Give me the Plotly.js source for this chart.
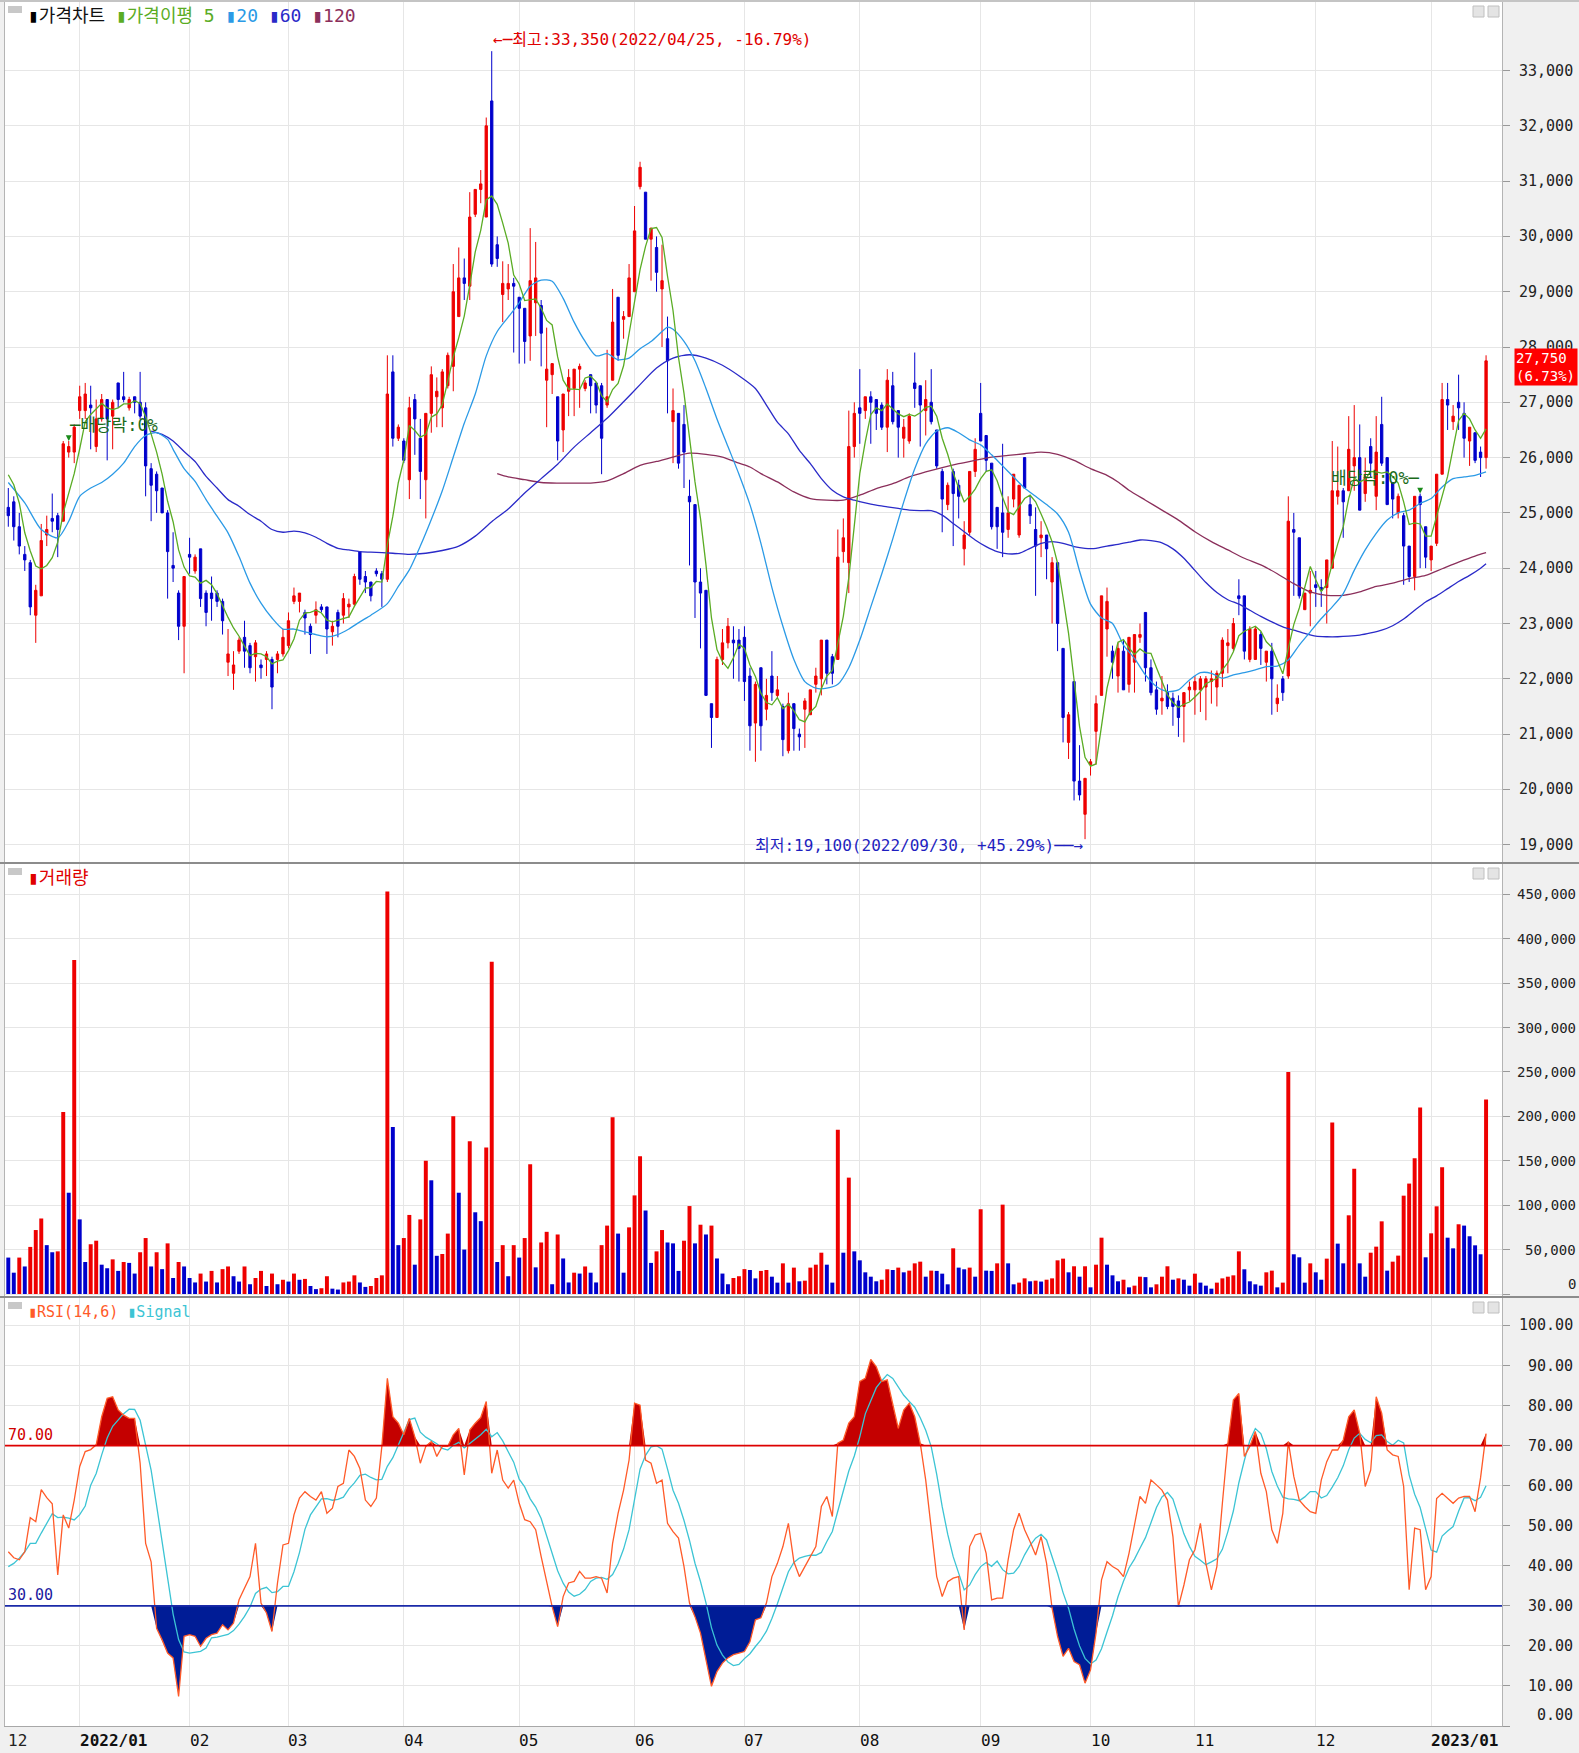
<!DOCTYPE html>
<html><head><meta charset="utf-8">
<script src="https://cdn.plot.ly/plotly-3.0.1.min.js"></script>
<style>html,body{margin:0;padding:0;background:#f0f0f0;}#chart{width:1579px;height:1753px;}</style>
</head><body><div id="chart"></div>
<script>
// ---------------- DATA (trading-day index 0 = 2021/12/14) ----------------
const openP = [
25100,25200,24750,24250,24100,23150,23500,24600,24900,24950,
24850,26100,26100,26850,26850,26950,26200,26700,27050,26750,
27350,27100,26900,27100,27000,26900,25800,25700,25450,25000,
24050,23550,22950,24250,23950,24350,23550,23550,23550,23400,
22300,22100,22500,22750,22600,22400,22250,22350,22350,22350,
22450,22600,23400,23400,23200,22950,23150,23300,23300,22850,
23200,23150,23300,23350,24300,23850,23750,23950,23900,23800,
27550,26350,26300,25600,27050,26350,25600,26800,27100,26900,
27300,27650,28550,29250,29100,30400,30850,30350,32450,29850,
28950,29050,29150,28900,28700,28200,28800,28750,27400,27500,
27100,26500,27200,27250,27600,27250,27500,27350,27300,26950,
27400,28900,28500,28550,29000,30900,30800,29950,29800,29050,
28150,26650,26800,26600,25300,25150,23750,23600,21550,21300,
22350,22650,22700,22700,22750,22050,21200,22200,21450,22050,
21700,21500,20700,21550,21000,21450,21350,21900,22000,22700,
22400,22350,24300,24100,26200,26900,26850,27100,27050,26950,
26550,27300,26850,26350,26300,27350,27300,26850,27000,26500,
25750,25150,25750,25500,24350,24650,25750,26800,26400,25900,
25100,25000,24700,25250,24600,26000,25150,24700,24550,24600,
23750,24100,22550,20850,21950,20150,19550,20450,21050,21700,
22900,22500,22050,22500,21900,22300,22750,23200,22200,21800,
21600,21750,21650,21600,21500,21800,21800,21800,21850,21950,
21850,22100,22600,22550,23500,23500,22350,22350,22800,22300,
22500,21550,22000,22050,24700,24550,23250,23550,23700,23650,
23650,24000,25300,25400,25400,25850,26000,25350,26200,25300,
26600,26000,25550,25000,24950,24400,23850,25300,24750,24150,
24450,25700,27050,26650,27000,26800,26300,26450,26100,26000];
const highP = [
25450,25300,25000,24400,24150,23700,24800,24950,25350,25000,
26300,26300,26600,27300,27350,27300,27050,27150,27050,27050,
27350,27550,27100,27100,27550,27000,25900,25750,25450,25050,
24650,23600,23850,24550,24250,24350,23600,23850,23600,23450,
22900,22500,22750,23050,22650,22700,22350,22500,22400,22500,
22900,23200,23650,23550,23250,23000,23400,23350,23300,23050,
23250,23550,23450,23900,24300,23950,23750,24000,23950,27850,
27850,26600,26350,27100,27150,26700,26800,27650,27450,27600,
27900,29500,29800,29600,30800,30850,31200,32150,33350,30000,
29550,29500,29250,28900,28700,30150,29900,28850,28350,27700,
27100,27150,27600,27600,27700,27400,27500,27350,27350,27950,
29050,28900,28650,29500,30550,31350,30800,30150,30000,29850,
28550,27250,26800,26950,25600,25150,24000,23600,21550,22400,
22900,23100,22950,22900,22950,22200,21950,22200,22000,22500,
22050,21550,21750,21550,21100,21650,21800,22200,22700,22700,
22450,24700,24900,26850,27000,27600,27100,27200,27050,27000,
27600,27550,26850,26700,26800,27900,27300,27400,27600,26500,
25800,25550,25800,25600,24850,25750,26350,27350,26400,25900,
25100,26250,25300,25700,25500,26000,25300,25100,24850,24600,
24200,24100,22550,21400,21950,20800,20200,20550,21700,23500,
23650,22600,22650,22700,22750,22800,23000,23200,22350,21950,
22050,21900,21750,21700,21750,21950,22050,22050,22050,22150,
22150,22750,22900,23100,23800,23500,22950,22950,22850,22500,
22650,21900,22050,25300,25000,24550,23550,23950,23950,23800,
24150,26300,26200,25450,26750,26950,26600,26000,26350,26750,
27100,26000,25550,25350,25000,24400,25300,25350,24750,24400,
25700,27350,27350,26950,27500,27000,26550,26450,26200,27850];
const lowP = [
24750,24500,24250,23950,23150,22650,23500,24400,24650,24200,
24850,26000,25900,26700,26700,26150,26100,26650,25950,26150,
26900,27000,26850,26800,26700,25300,24850,25000,25000,23450,
23750,22700,22100,23900,23900,23300,22950,23050,23300,22800,
22050,21800,22450,22200,22100,21950,22000,22050,21450,22100,
22400,22550,23350,23200,22800,22450,23000,23200,22450,22600,
22750,23000,23100,23300,23700,23550,23400,23850,23300,23750,
26200,26300,25900,25250,26050,25250,24900,26450,26550,26550,
27250,27200,28550,28850,28850,30350,30600,30350,29450,29450,
28450,28850,27900,27700,27700,27750,28200,27650,26550,27150,
25950,26100,26750,26750,26900,27200,26800,26800,25700,26900,
27400,27750,28150,28550,29000,30850,29950,29200,29000,28000,
26800,25900,25800,25450,24050,23100,22550,21700,20750,21300,
22250,22550,22000,21950,21600,20700,20500,20700,21250,21600,
21650,20600,20650,20700,20700,20750,21350,21750,21700,21900,
21900,22350,24100,23550,26000,26250,26700,26250,26500,26500,
26100,26600,26000,26000,26250,26900,26200,26400,26600,25800,
24650,25050,24400,24900,24050,24600,25650,26300,25750,24700,
24350,24200,24550,25100,24550,25450,24800,23500,24200,23800,
23000,22500,20850,20550,19800,19800,19100,20250,20450,21700,
22400,22000,21750,21800,21750,21750,22650,21950,21700,21350,
21350,21450,21150,20950,20850,21600,21350,21400,21250,21550,
21500,21850,22100,22500,23150,22350,22300,22350,22250,21950,
21350,21400,21600,22000,23500,23450,23250,22950,23300,23300,
23000,24000,25150,24550,25400,25400,25050,25200,25650,25050,
25850,25150,24900,24900,23700,23750,23600,24000,24000,23950,
24400,25700,26500,26500,26500,26000,25850,25900,25650,25800];
const closeP = [
24950,24750,24400,24150,23300,23600,24500,24700,24850,24700,
26250,26200,26550,27100,27150,26900,26700,27050,26700,27000,
27050,27050,27050,27000,26750,25850,25500,25400,25000,24300,
24000,22950,23850,24200,24200,23450,23200,23450,23400,23050,
22450,22250,22700,22500,22200,22650,22200,22450,21850,22450,
22750,23050,23500,23550,23100,22800,23250,23250,22900,22950,
22950,23450,23350,23850,23800,23750,23500,23900,23800,27150,
26350,26550,25950,26900,26700,25750,26800,27500,27200,27550,
27850,29000,29250,29150,30350,30850,30950,32000,29500,29600,
29150,29150,29100,28700,28100,29200,29250,28250,27600,27700,
26300,27150,27450,27600,27650,27350,27300,26950,26350,27100,
28450,27850,28550,29250,30100,31250,29950,30150,29350,29200,
27750,26850,25900,26100,25200,23750,23550,21700,21300,22350,
22650,22950,22650,22550,21950,21150,21900,21150,21700,21750,
21800,20900,21550,21100,20950,21600,21800,22050,22700,22100,
22100,24200,24550,26200,26800,26800,27100,27000,26800,26550,
27400,26650,26550,26550,26750,27250,26950,27050,26650,25850,
25250,25500,25350,25300,24600,25750,26150,26300,25950,24750,
24750,24650,25000,25700,25500,25450,24950,24400,24600,24350,
24100,23000,21300,21350,20150,19900,20200,20500,21550,23500,
23400,22300,22550,21800,22750,22800,22800,22200,21750,21450,
21650,21500,21500,21300,21750,21850,21950,22000,22000,22000,
22100,22700,22650,23000,23450,22500,22900,22900,22550,22500,
22000,21650,21750,24850,24650,23500,23550,23600,23650,23600,
24150,25400,25400,25200,26150,26000,25050,25650,25900,26100,
25900,25150,25250,25300,24400,23850,25300,25150,24200,24400,
25700,27050,26950,26750,26900,26350,26550,25950,26000,27750];
// volume in thousands of shares
const volumeK = [
41,24,41,31,53,72,85,55,47,48,
205,114,376,84,36,56,60,33,29,39,
26,36,35,23,47,63,31,47,28,57,
18,36,31,18,13,23,14,26,13,28,
31,20,14,31,11,18,26,9,23,11,
16,14,23,16,17,9,5.5,6.5,20,6,
5,13,14,21,13,8,9,18,21,453,
188,55,63,89,33,84,150,128,43,45,
68,200,114,50,172,92,82,165,374,36,
55,20,55,41,63,146,30,58,70,11,
67,40,13,24,23,31,24,13,55,77,
199,68,24,75,111,155,94,35,48,72,
58,57,26,60,99,57,78,67,77,40,
23,11,18,20,28,27,17.6,26,27,19.5,
12.8,34.5,12.8,29.7,14.3,15,29.7,33,46.5,33,
12.8,185,46.5,131,48,37.9,24.4,19.5,14.3,16.1,
27.8,27,29.7,24.4,26.3,34.5,36.4,19.5,26.3,26,
22.9,10.9,51.4,29.7,27.8,29.7,19.5,95.4,26.3,26,
34.5,100.6,34.5,10.9,12.8,17.6,14.3,15,14,16.1,
17.6,37.9,39.8,24.4,31.2,19.5,31.2,7.5,33,63.4,
33,21,14.3,16.1,7.5,9.4,19.5,19,7.5,10.9,
19.5,31.2,16.1,17.6,16.1,9.4,22.9,12.8,9.4,6,
12.8,17.6,19.5,21,48,27.8,14.3,10.9,9.4,24.4,
26.3,7.5,12.8,250,44.7,41.3,12.8,34.5,24.4,16.1,
39.8,193,56.7,34.5,88.6,141,34.5,19.5,46.5,53.3,
81.8,26.3,36.4,43.2,110.7,124.3,152.8,210,41.3,68.3,
98.7,142.7,63.4,51.4,78.5,77,65,54.8,44.7,219];
const rsi = [
43.5,42,41.5,43.5,52,51,59,57,55.5,37.7,
52.7,49.4,56.4,64.8,68.5,69,70.2,77.2,81.8,82.2,
78.9,77.6,76.8,76.8,65.6,45.6,41,24.4,21.5,18.2,
17,7.4,22.4,22.8,22.4,19.9,21.9,22.8,23.2,25.3,
24,25.7,31.5,34.4,37.3,45.6,30.7,28.2,23.6,35.7,
45.2,45.6,52.7,56.9,58.5,57.3,56.4,58.5,53.1,54.4,
59.8,60.6,68.9,67.3,64.3,56.4,54.8,56.9,69.8,86.8,
77.2,75.6,72.7,76.8,72.2,65.6,69.8,71,67.3,69.8,
69.8,72.7,74.3,62.7,73.9,75.6,77,81,63.1,68.9,
61.4,59.4,61.4,55.6,51.5,51,49,42.3,35.7,29.8,
24.8,32.3,35.7,36.1,38.6,36.9,36.9,37.3,36.9,33.2,
45.6,53.1,58.9,66.4,80.6,80.1,66.4,65.6,60.6,61.4,
50.6,48.5,46.9,39.8,30.7,27.3,23.2,16.5,9.9,13.6,
15.7,17,17.8,18.2,18.6,21,26.5,27,30.7,37.3,
40.6,44.8,50.6,41,37.3,39.8,42.3,44.8,54.8,57.3,
52.3,70.6,71.4,75.6,77.2,86,86.8,91.5,89.7,86,
86.4,80.1,74.3,78.9,80.6,77.2,70.6,61.4,49.8,37.3,
32.3,36,36.9,37.3,24,44.8,47.7,48.1,43.1,31.5,
31.9,31.9,41.5,49,53.1,49,46,42.7,47.3,40.6,
29.4,22.4,17.4,19.4,16.1,15.3,10.7,14,23.2,36.5,
41,39.8,39,37.3,43.1,49.8,57.3,55.6,61.4,60.2,
58.9,56.4,47.3,29.8,35.2,41.5,44,50.6,40.6,34,
39.8,55.6,70.6,81.4,83,67.3,69.8,73.5,63.1,58.5,
49,45.6,53.1,71,62.3,56.4,54.8,53.5,53.1,61.4,
66,68.9,68.9,71.4,77.2,78.9,73.1,59.8,63.9,82.2,
78.1,68.9,67.7,67.3,59.8,34,49.4,49,34,37.3,
56.8,58.1,56.9,55.6,56.9,57.3,57.3,53.5,62,73];
// indicator values read where their windows reach before the visible data
const ma5Head = [25690,25510,25180,24640];
const signalHead = [39.8,40.6,41.9,43.5,45.6];
// longer moving averages (trading-day index / price)
const ma20Idx = [0,3,6,9,11,13,15,17,19,21,23,25,27,29,30,32,34,36,38,40,42,44,46,48,50,52,54,56,58,60,62,64,66,69,71,73,75,77,79,81,83,85,87,89,91,93,95,97,99,101,103,105,107,109,111,113,115,117,119,120,121,123,125,127,129,131,133,135,137,139,141,143,145,147,149,151,153,155,157,159,161,163,165,167,169,171,173,175,177,179,181,183,185,187,189,191,193,195,197,199,201,203,205,207,209,211,213,215,217,219,221,223,225,227,229,231,233,235,237,239,241,243,245,247,249,251,253,255,257,259,261,263,265,267,269];
const ma20Val = [25550,25180,24700,24550,24850,25300,25450,25550,25700,25900,26200,26400,26450,26330,26150,25800,25570,25240,24940,24640,24210,23730,23370,23100,22900,22900,22850,22800,22760,22800,22900,23030,23150,23360,23670,23970,24400,24880,25400,26010,26620,27150,27840,28280,28540,28800,29100,29210,29190,28880,28450,28100,27840,27880,27770,27800,27970,28100,28280,28360,28320,28100,27750,27250,26700,26200,25700,25150,24450,23650,22950,22350,21950,21830,21830,21900,22200,22700,23300,23900,24530,25200,25800,26250,26480,26540,26450,26320,26230,26050,25850,25650,25450,25300,25150,24980,24650,23950,23350,23100,23000,22610,22370,22070,21860,21770,21800,21980,22110,22100,22010,22070,22110,22160,22220,22230,22340,22610,22850,23090,23300,23540,23960,24330,24630,24870,25000,25050,25170,25260,25470,25620,25650,25680,25740];
const ma60Idx = [26,28,30,32,34,36,38,40,42,44,46,48,50,52,54,56,58,60,62,64,66,70,73,76,79,82,85,88,91,94,97,100,103,106,109,112,115,118,121,124,127,130,133,136,138,140,142,144,146,148,150,152,154,156,158,160,162,164,166,168,170,172,174,176,178,180,182,184,186,188,190,192,194,196,198,200,202,204,206,208,210,212,214,216,218,220,222,224,226,228,230,232,234,236,238,240,242,244,246,248,250,252,254,256,258,260,262,264,266,268,269];
const ma60Val = [26480,26420,26300,26110,25930,25660,25450,25240,25120,24970,24850,24700,24650,24670,24640,24560,24450,24360,24330,24300,24290,24270,24250,24270,24320,24400,24580,24840,25070,25360,25620,25880,26190,26450,26710,27010,27320,27620,27800,27860,27800,27670,27480,27250,26950,26640,26430,26130,25890,25620,25410,25290,25230,25180,25140,25110,25080,25050,25040,25040,24960,24810,24660,24510,24390,24300,24260,24270,24360,24450,24480,24450,24390,24360,24360,24400,24430,24470,24510,24500,24460,24350,24180,23960,23740,23560,23430,23350,23240,23130,23030,22940,22880,22820,22770,22760,22760,22770,22790,22830,22880,22960,23080,23240,23390,23500,23630,23760,23870,24000,24080];
const ma120Idx = [89,91,94,97,100,103,106,109,112,115,118,121,124,127,130,133,135,137,140,143,146,149,152,155,158,161,164,167,170,173,176,179,182,185,188,191,194,197,200,202,204,207,210,213,216,219,222,225,228,231,234,237,240,243,246,249,252,255,258,261,264,267,269];
const ma120Val = [25710,25650,25600,25550,25540,25540,25540,25580,25710,25860,25930,26010,26080,26060,26010,25900,25830,25710,25560,25380,25260,25230,25230,25320,25440,25530,25650,25740,25820,25890,25950,26010,26040,26070,26100,26060,25950,25800,25680,25560,25410,25230,25050,24870,24660,24480,24330,24180,24060,23900,23720,23570,23510,23510,23570,23670,23730,23810,23870,23990,24110,24220,24280];
// axis / label text
const monthIdx = [13,33,51,72,93,114,134,155,177,197,216,238,259];
const monthLabels = ['2022/01','02','03','04','05','06','07','08','09','10','11','12','2023/01'];
const firstMonthLabel = '12';
const priceTicks = [19000,20000,21000,22000,23000,24000,25000,26000,27000,28000,29000,30000,31000,32000,33000];
const volTicks = [0,50000,100000,150000,200000,250000,300000,350000,400000,450000];
const rsiTicks = [0,10,20,30,40,50,60,70,80,90,100];
const rsiBands = [30,70];
const highDate = '2022/04/25', lowDate = '2022/09/30';
const exDivIdx = [11,257];
const exDivText = '배당락:0%';

// ---------------- DERIVED ----------------
const N = closeP.length;
const idx = Array.from({length:N},(_,i)=>i);
const volume = volumeK.map(v=>v*1000);
const ma5 = closeP.map((c,i)=> i<4 ? ma5Head[i] : (closeP[i]+closeP[i-1]+closeP[i-2]+closeP[i-3]+closeP[i-4])/5);
const signal = rsi.map((v,i)=> i<5 ? signalHead[i] : rsi.slice(i-5,i+1).reduce((a,b)=>a+b,0)/6);
const RED='#ee0000', BLUE='#0000cc';
const volColors = volume.map((v,i)=> (i>0 && v>volume[i-1]) ? RED : BLUE);
const fmt = v => v.toLocaleString('en-US');
let hiI=0, loI=0;
highP.forEach((v,i)=>{ if(v>highP[hiI]) hiI=i; });
lowP.forEach((v,i)=>{ if(v<lowP[loI]) loI=i; });
const last = closeP[N-1], prev = closeP[N-2];
const lastPct = ((last/prev-1)*100).toFixed(2);
const hiPct = ((last/highP[hiI]-1)*100).toFixed(2);
const loPct = ((last/lowP[loI]-1)*100).toFixed(2);

// ---------------- LAYOUT GEOMETRY ----------------
const W=1579,H=1753,L=5,R=77,T=2,B=27;
const pw=W-L-R, ph=H-T-B;
const px = X => (X-L)/pw;
const py = Y => (H-B-Y)/ph;
const MONO = "'DejaVu Sans Mono', 'Noto Sans CJK KR', monospace";
const KR = "'DejaVu Sans Mono', 'Noto Sans CJK KR', sans-serif";
const GRID = '#e6e6e6';
const C = {ma5:'#5aac24', ma20:'#2b9ae6', ma60:'#2a2ac8', ma120:'#8b2f5b', rsi:'#ff5a28', sig:'#3cc4d4', green:'#1a6b1a'};

const traces = [
 {type:'candlestick', x:idx, open:openP, high:highP, low:lowP, close:closeP, xaxis:'x', yaxis:'y',
  increasing:{line:{color:RED,width:1}, fillcolor:RED}, decreasing:{line:{color:BLUE,width:1}, fillcolor:BLUE},
  whiskerwidth:0, hoverinfo:'skip'},
 {type:'scatter', mode:'lines', x:ma120Idx, y:ma120Val, yaxis:'y', line:{color:C.ma120,width:1.3,shape:'spline',smoothing:0.7}, hoverinfo:'skip'},
 {type:'scatter', mode:'lines', x:ma60Idx, y:ma60Val, yaxis:'y', line:{color:C.ma60,width:1.3,shape:'spline',smoothing:0.7}, hoverinfo:'skip'},
 {type:'scatter', mode:'lines', x:ma20Idx, y:ma20Val, yaxis:'y', line:{color:C.ma20,width:1.3,shape:'spline',smoothing:0.7}, hoverinfo:'skip'},
 {type:'scatter', mode:'lines', x:idx, y:ma5, yaxis:'y', line:{color:C.ma5,width:1.3}, hoverinfo:'skip'},
 {type:'bar', x:idx, y:volume, yaxis:'y2', marker:{color:volColors, line:{width:0}}, hoverinfo:'skip'},
 {type:'scatter', mode:'lines', x:idx, y:idx.map(()=>rsiBands[1]), yaxis:'y3', line:{width:0}, hoverinfo:'skip'},
 {type:'scatter', mode:'lines', x:idx, y:rsi.map(v=>Math.max(v,rsiBands[1])), yaxis:'y3', line:{width:0}, fill:'tonexty', fillcolor:'#c40000', hoverinfo:'skip'},
 {type:'scatter', mode:'lines', x:idx, y:idx.map(()=>rsiBands[0]), yaxis:'y3', line:{width:0}, hoverinfo:'skip'},
 {type:'scatter', mode:'lines', x:idx, y:rsi.map(v=>Math.min(v,rsiBands[0])), yaxis:'y3', line:{width:0}, fill:'tonexty', fillcolor:'#001c96', hoverinfo:'skip'},
 {type:'scatter', mode:'lines', x:idx, y:signal, yaxis:'y3', line:{color:C.sig,width:1.3}, hoverinfo:'skip'},
 {type:'scatter', mode:'lines', x:idx, y:rsi, yaxis:'y3', line:{color:C.rsi,width:1.3}, hoverinfo:'skip'}
];

const ann = [];
const legendSpan = (col, txt) => '<span style="color:'+col+'">'+txt+'</span>';
ann.push({xref:'paper',yref:'paper',x:px(26),y:py(15),xanchor:'left',yanchor:'middle',showarrow:false,
  text: legendSpan('#000','▮')+'가격차트 '+legendSpan(C.ma5,'▮가격이평 5')+' '+legendSpan(C.ma20,'▮20')+' '+legendSpan(C.ma60,'▮60')+' '+legendSpan(C.ma120,'▮120'),
  font:{family:KR,size:18,color:'#111'}});
ann.push({xref:'paper',yref:'paper',x:px(26),y:py(878),xanchor:'left',yanchor:'middle',showarrow:false,
  text: legendSpan('#e00000','▮거래량'), font:{family:KR,size:18}});
ann.push({xref:'paper',yref:'paper',x:px(26),y:py(1312),xanchor:'left',yanchor:'middle',showarrow:false,
  text: legendSpan(C.rsi,'▮RSI(14,6)')+' '+legendSpan(C.sig,'▮Signal'), font:{family:MONO,size:15}});
// y tick labels
priceTicks.forEach(v=>ann.push({xref:'paper',yref:'y',x:px(1575),y:v,xanchor:'right',yanchor:'middle',showarrow:false,text:fmt(v),font:{family:MONO,size:15,color:'#222'}}));
volTicks.forEach(v=>ann.push({xref:'paper',yref:'y2',x:px(1578),y:v,xanchor:'right',yanchor:v===0?'bottom':'middle',showarrow:false,text:fmt(v),font:{family:MONO,size:14,color:'#222'}}));
rsiTicks.forEach(v=>ann.push({xref:'paper',yref:'y3',x:px(1575),y:v,xanchor:'right',yanchor:v===0?'bottom':'middle',showarrow:false,text:v.toFixed(2),font:{family:MONO,size:15,color:'#222'}}));
// x labels
ann.push({xref:'paper',yref:'paper',x:px(6),y:py(1740),xanchor:'left',yanchor:'middle',showarrow:false,text:firstMonthLabel,font:{family:MONO,size:16,color:'#222'}});
monthIdx.forEach((m,k)=>{
  const t = monthLabels[k];
  ann.push({xref:'x',yref:'paper',x:m,y:py(1740),xanchor:'left',yanchor:'middle',xshift:-2,showarrow:false,
    text: t.indexOf('/')>=0 ? '<b>'+t+'</b>' : t, font:{family:MONO,size:16,color:'#111'}});
});
// RSI band labels
ann.push({xref:'paper',yref:'y3',x:px(6),y:rsiBands[1],xanchor:'left',yanchor:'bottom',showarrow:false,text:rsiBands[1].toFixed(2),font:{family:MONO,size:15,color:'#d00000'}});
ann.push({xref:'paper',yref:'y3',x:px(6),y:rsiBands[0],xanchor:'left',yanchor:'bottom',showarrow:false,text:rsiBands[0].toFixed(2),font:{family:MONO,size:15,color:'#1a1aa0'}});
// high / low markers
ann.push({xref:'x',yref:'y',x:hiI,y:highP[hiI],xanchor:'left',yanchor:'middle',xshift:-1,yshift:12,showarrow:false,
  text:'←─최고:'+fmt(highP[hiI])+'('+highDate+', '+hiPct+'%)',font:{family:KR,size:16,color:'#e00000'}});
ann.push({xref:'x',yref:'y',x:loI,y:lowP[loI],xanchor:'right',yanchor:'middle',xshift:0,yshift:-6,showarrow:false,
  text:'최저:'+fmt(lowP[loI])+'('+lowDate+', +'+loPct+'%)──→',font:{family:KR,size:16,color:'#1f1fc0'}});
// ex-dividend markers
exDivIdx.forEach((d,k)=>{
  ann.push({xref:'x',yref:'y',x:d,y:highP[d],ax:0,ay:-15,showarrow:true,arrowhead:2,arrowsize:0.9,arrowwidth:1.3,arrowcolor:'#1a8a1a',standoff:0,text:' '});
  ann.push({xref:'x',yref:'y',x:d,y:highP[d],yshift:16,yanchor:'middle',xanchor:k===0?'left':'right',xshift:k===0?-2:2,showarrow:false,
    text: k===0 ? '─'+exDivText : exDivText+'─', font:{family:KR,size:17,color:C.green}});
});
// last price tag
ann.push({xref:'paper',yref:'y',x:px(1514),y:last,xanchor:'left',yanchor:'top',yshift:13,showarrow:false,align:'left',
  text:fmt(last)+'<br>('+lastPct+'%)',bgcolor:'#ff0000',borderpad:1,width:60,font:{family:MONO,size:14,color:'#ffffff'}});

const shapes = [];
[863,1297].forEach(Y=>shapes.push({type:'line',xref:'paper',yref:'paper',x0:px(0),x1:px(W),y0:py(Y),y1:py(Y),line:{color:'#8c8c8c',width:2}}));
shapes.push({type:'line',xref:'paper',yref:'paper',x0:px(0),x1:px(W),y0:py(1),y1:py(1),line:{color:'#c4c4c4',width:2}});
shapes.push({type:'line',xref:'paper',yref:'y3',x0:0,x1:1,y0:rsiBands[1],y1:rsiBands[1],line:{color:'#dd0000',width:1.6}});
shapes.push({type:'line',xref:'paper',yref:'y3',x0:0,x1:1,y0:rsiBands[0],y1:rsiBands[0],line:{color:'#1a2aa8',width:1.6}});
[3,865,1299].forEach(top=>{
  shapes.push({type:'rect',xref:'paper',yref:'paper',x0:px(8),x1:px(22),y0:py(top+3),y1:py(top+10),fillcolor:'#c8c8c8',line:{width:0}});
  shapes.push({type:'rect',xref:'paper',yref:'paper',x0:px(1473),x1:px(1484),y0:py(top+3),y1:py(top+14),fillcolor:'#e4e4e4',line:{color:'#c0c0c0',width:1}});
  shapes.push({type:'rect',xref:'paper',yref:'paper',x0:px(1488),x1:px(1499),y0:py(top+3),y1:py(top+14),fillcolor:'#e4e4e4',line:{color:'#c0c0c0',width:1}});
});

const yBase = {side:'right',anchor:'x',showticklabels:false,ticks:'outside',ticklen:7,tickcolor:'#999',tickwidth:1,
  showgrid:true,gridcolor:GRID,gridwidth:1,zeroline:false,showline:true,linecolor:'#b4b4b4',linewidth:1,mirror:true,fixedrange:true};
const layout = {
  width:W,height:H,margin:{l:L,r:R,t:T,b:B,pad:0},
  paper_bgcolor:'#f0f0f0',plot_bgcolor:'#ffffff',showlegend:false,
  font:{family:KR,size:15,color:'#222'},
  bargap:0.28, boxgap:0.4,
  xaxis:{range:[-0.6,271.9],tickvals:monthIdx,showticklabels:false,ticks:'',showgrid:true,gridcolor:GRID,zeroline:false,
    rangeslider:{visible:false},anchor:'y3',showline:true,linecolor:'#a8a8a8',mirror:'all',fixedrange:true},
  yaxis:Object.assign({},yBase,{domain:[py(863),1],range:[18669,34239],tickvals:priceTicks}),
  yaxis2:Object.assign({},yBase,{domain:[py(1297),py(863)],range:[-3380,485200],tickvals:volTicks}),
  yaxis3:Object.assign({},yBase,{domain:[0,py(1297)],range:[0,107.1],tickvals:rsiTicks}),
  annotations:ann, shapes:shapes
};
Plotly.newPlot('chart',traces,layout,{staticPlot:true,displayModeBar:false});
</script>
</body></html>
